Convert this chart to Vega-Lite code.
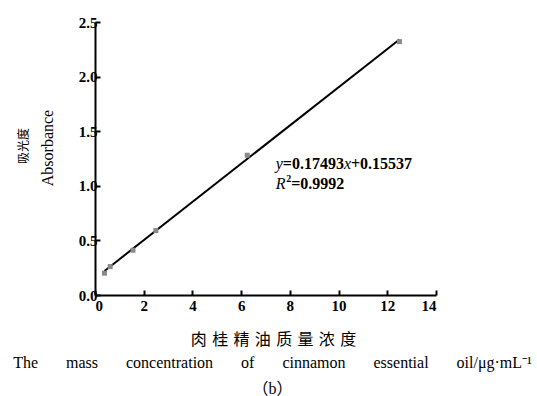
{
  "$schema": "https://vega.github.io/schema/vega-lite/v6.json",
  "width": 341,
  "height": 273,
  "autosize": {"type": "none"},
  "padding": {"left": 95, "top": 22, "right": 101, "bottom": 101},
  "background": "white",
  "title": {
    "text": "The\u2002\u2002\u2002\u00a0mass\u2002\u2002\u2002\u00a0concentration\u2002\u2002\u2002\u00a0of\u2002\u2002\u2002\u00a0cinnamon\u2002\u2002\u2002\u00a0essential\u2002\u2002\u2002\u00a0oil/μg·mL⁻¹",
    "subtitle": "（b）",
    "orient": "bottom",
    "anchor": "middle",
    "frame": "group",
    "font": "Liberation Serif",
    "fontSize": 16,
    "fontWeight": "normal",
    "color": "black",
    "subtitleFont": "Liberation Serif, Noto Sans CJK SC",
    "subtitleFontSize": 16,
    "subtitleColor": "black",
    "subtitlePadding": 10,
    "offset": 8,
    "dx": 7
  },
  "config": {
    "view": {"stroke": null},
    "axis": {
      "domainColor": "black",
      "domainWidth": 2,
      "tickColor": "black",
      "tickWidth": 2,
      "tickSize": -5,
      "grid": false,
      "labelColor": "black",
      "labelFont": "Liberation Serif",
      "labelFontWeight": "bold",
      "labelFontSize": 15,
      "titleColor": "black",
      "titleFont": "Liberation Serif, Noto Sans CJK SC",
      "titleFontWeight": "normal",
      "titleFontSize": 16
    }
  },
  "datasets": {
    "points": [
      {"conc": 0.39, "abs": 0.2},
      {"conc": 0.625, "abs": 0.26},
      {"conc": 1.56, "abs": 0.41},
      {"conc": 2.5, "abs": 0.59},
      {"conc": 6.25, "abs": 1.28},
      {"conc": 12.5, "abs": 2.32}
    ],
    "fit": [
      {"conc": 0.39, "abs": 0.22},
      {"conc": 12.5, "abs": 2.34}
    ]
  },
  "layer": [
    {
      "data": {"name": "fit"},
      "mark": {"type": "line", "color": "black", "strokeWidth": 2},
      "encoding": {
        "x": {
          "field": "conc", "type": "quantitative",
          "scale": {"domain": [0, 14], "nice": false, "zero": false},
          "axis": {
            "values": [0, 2, 4, 6, 8, 10, 12, 14],
            "labelPadding": 8,
            "title": "肉\u2004桂\u2004精\u2004油\u2004质\u2004量\u2004浓\u2004度",
            "titleX": 178,
            "titleY": 36,
            "titleAlign": "center",
            "titleBaseline": "top"
          }
        },
        "y": {
          "field": "abs", "type": "quantitative",
          "scale": {"domain": [0, 2.5], "nice": false, "zero": false},
          "axis": {
            "values": [0, 0.5, 1, 1.5, 2, 2.5],
            "format": ".1f",
            "labelPadding": 3,
            "title": "Absorbance",
            "titleX": -43,
            "titleY": 125.5,
            "titleAlign": "center",
            "titleBaseline": "alphabetic",
            "titleAngle": -90
          }
        }
      }
    },
    {
      "data": {"name": "points"},
      "mark": {"type": "point", "shape": "square", "filled": true, "color": "#8a8a8a", "size": 25, "opacity": 1},
      "encoding": {
        "x": {"field": "conc", "type": "quantitative"},
        "y": {"field": "abs", "type": "quantitative"}
      }
    },
    {
      "data": {"values": [{}]},
      "mark": {"type": "text", "font": "Noto Sans CJK SC", "fontSize": 12, "angle": 270, "align": "center", "baseline": "middle", "color": "black"},
      "encoding": {"x": {"datum": -2.93}, "y": {"datum": 1.364}, "text": {"value": "吸光度"}}
    },
    {
      "data": {"values": [{}]},
      "mark": {"type": "text", "font": "Liberation Serif", "fontStyle": "italic", "fontSize": 16, "align": "left", "baseline": "alphabetic", "color": "black"},
      "encoding": {"x": {"datum": 7.419}, "y": {"datum": 1.158}, "text": {"value": "y"}}
    },
    {
      "data": {"values": [{}]},
      "mark": {"type": "text", "font": "Liberation Serif", "fontWeight": "bold", "fontSize": 16, "align": "left", "baseline": "alphabetic", "color": "black"},
      "encoding": {"x": {"datum": 7.71}, "y": {"datum": 1.158}, "text": {"value": "=0.17493"}}
    },
    {
      "data": {"values": [{}]},
      "mark": {"type": "text", "font": "Liberation Serif", "fontStyle": "italic", "fontSize": 16, "align": "left", "baseline": "alphabetic", "color": "black"},
      "encoding": {"x": {"datum": 10.219}, "y": {"datum": 1.158}, "text": {"value": "x"}}
    },
    {
      "data": {"values": [{}]},
      "mark": {"type": "text", "font": "Liberation Serif", "fontWeight": "bold", "fontSize": 16, "align": "left", "baseline": "alphabetic", "color": "black"},
      "encoding": {"x": {"datum": 10.51}, "y": {"datum": 1.158}, "text": {"value": "+0.15537"}}
    },
    {
      "data": {"values": [{}]},
      "mark": {"type": "text", "font": "Liberation Serif", "fontStyle": "italic", "fontSize": 16, "align": "left", "baseline": "alphabetic", "color": "black"},
      "encoding": {"x": {"datum": 7.419}, "y": {"datum": 0.968}, "text": {"value": "R"}}
    },
    {
      "data": {"values": [{}]},
      "mark": {"type": "text", "font": "Liberation Serif", "fontWeight": "bold", "fontSize": 10, "align": "left", "baseline": "alphabetic", "color": "black"},
      "encoding": {"x": {"datum": 7.85}, "y": {"datum": 1.035}, "text": {"value": "2"}}
    },
    {
      "data": {"values": [{}]},
      "mark": {"type": "text", "font": "Liberation Serif", "fontWeight": "bold", "fontSize": 16, "align": "left", "baseline": "alphabetic", "color": "black"},
      "encoding": {"x": {"datum": 8.055}, "y": {"datum": 0.968}, "text": {"value": "=0.9992"}}
    }
  ]
}
